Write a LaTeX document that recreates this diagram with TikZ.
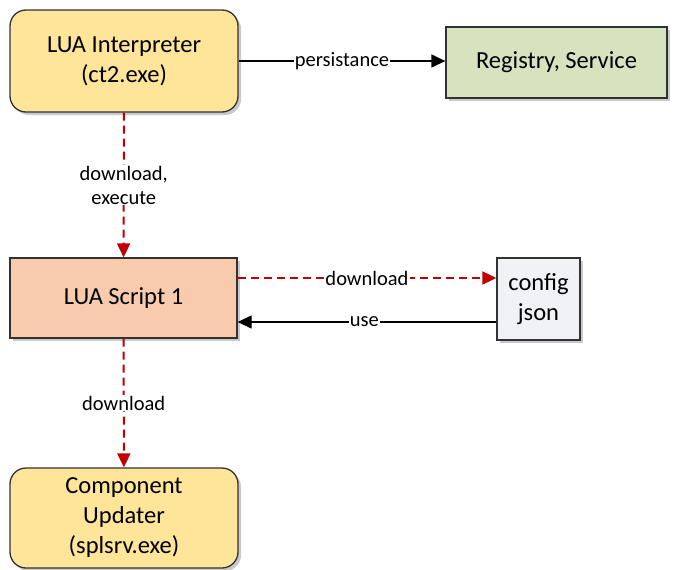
\documentclass[tikz,border=0pt]{standalone}
\usepackage{fontspec}
\setmainfont{Carlito}
\usetikzlibrary{shadows,arrows.meta}
\definecolor{cyellow}{RGB}{255,229,153}
\definecolor{cgreen}{RGB}{214,227,190}
\definecolor{corange}{RGB}{248,203,173}
\definecolor{cgray}{RGB}{240,242,246}
\definecolor{cred}{RGB}{192,0,0}
\definecolor{cborder}{RGB}{50,50,50}
\tikzset{
  box/.style={draw=cborder, line width=1.3pt, align=center, inner sep=0pt,
    font=\fontsize{24.5}{30}\selectfont,
    drop shadow={shadow xshift=3pt, shadow yshift=-3pt, fill=black!35, opacity=0.6}},
  rbox/.style={box, rounded corners=16pt},
  lbl/.style={fill=white, inner sep=1pt, font=\fontsize{20.5}{24}\selectfont},
  solidarr/.style={draw=black, line width=1.3pt, -{Triangle[length=14pt,width=13pt]}},
  redarr/.style={draw=cred, line width=2pt, dashed, dash pattern=on 8pt off 5pt, -{Triangle[length=14pt,width=13pt]}},
}
\begin{document}
\begin{tikzpicture}[x=1pt,y=-1pt]
\useasboundingbox (0,0) rectangle (683,570);
\node[rbox, fill=cyellow, minimum width=228pt, minimum height=102pt] (interp) at (124,61) {LUA Interpreter\\(ct2.exe)};
\node[box, fill=cgreen, minimum width=221pt, minimum height=71pt] (reg) at (556.5,62.5) {Registry, Service};
\node[box, fill=corange, minimum width=227pt, minimum height=80pt] (script) at (123.5,298) {LUA Script 1};
\node[box, fill=cgray, minimum width=83pt, minimum height=82pt] (cfg) at (538.5,299) {config\\json};
\node[rbox, fill=cyellow, minimum width=228pt, minimum height=100pt] (comp) at (124,518) {Component\\Updater\\(splsrv.exe)};
\draw[solidarr] (interp.east |- 0,61) -- node[lbl]{persistance} (reg.west |- 0,61);
\draw[redarr] (interp) -- node[lbl, align=center]{download,\\execute} (script);
\draw[redarr] (script.east |- 0,278) -- node[lbl]{download} (cfg.west |- 0,278);
\draw[solidarr] (cfg.west |- 0,322) -- node[lbl, pos=0.51]{use} (script.east |- 0,322);
\draw[redarr] (script) -- node[lbl]{download} (comp);
\end{tikzpicture}
\end{document}
